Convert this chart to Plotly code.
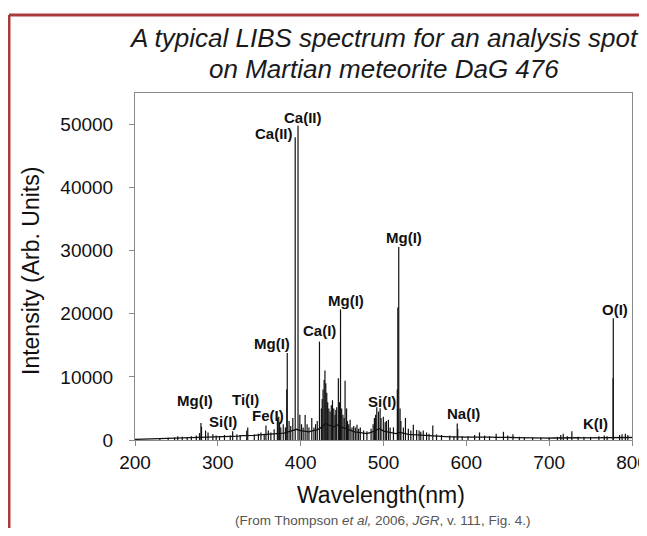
import numpy as np
import plotly.graph_objects as go

# ---------------- data ----------------
# Emission lines: wavelength (nm) and peak intensity (arb. units)
line_wl = [230, 240, 247.8, 251.6, 257, 263, 268, 274, 277.9, 279.6, 280.3, 285.2, 288.2,
           294, 298, 302, 308, 315, 317.9, 323, 327, 334.9, 336.1, 344, 349, 352, 356,
           358.1, 361, 364, 368, 371.9, 373.5, 374.6, 376, 379, 381.6, 383.2, 383.8,
           386, 388, 390.5, 393.4, 396.8, 399, 401, 403, 405.4, 407.8, 410, 413.4, 416,
           418, 420, 422.7, 425, 426, 427, 428.3, 429.3, 430.3, 431.5, 432.6, 434, 435.5,
           437, 438.4, 440, 441.5, 442.5, 443.5, 445.5, 447, 448.1, 449.5, 451, 452.5,
           453.6, 455.4, 456.5, 458, 459.7, 462, 464, 466, 468, 470, 472, 476, 480, 485,
           487.5, 489, 490.5, 491.9, 494, 495.9, 497, 499.8, 502, 503.5, 505.9, 508, 512,
           516.7, 517.3, 518.4, 520, 521, 524, 526.5, 530, 533, 536, 540, 543, 545, 548,
           552, 555, 559.5, 564, 570, 580, 585, 589.0, 589.6, 595, 602, 610, 615.9, 622,
           628, 636, 644.8, 650, 656.3, 664, 670, 680, 690, 700, 710, 714, 717, 722, 727.4,
           735, 742, 750, 760, 766.5, 769.9, 777.2, 777.4, 785, 788, 792, 795]
line_int = [300, 350, 400, 600, 500, 450, 600, 700, 1100, 2700, 2100, 1500, 1200,
            900, 700, 600, 800, 700, 1400, 900, 800, 1500, 2000, 900, 1000, 1200, 800,
            2300, 1500, 1200, 1700, 3500, 3700, 2800, 2000, 2500, 2000, 8000, 13800,
            3000, 2200, 3500, 48000, 49800, 4000, 2500, 2000, 3950, 2500, 2000, 3500, 2000,
            2500, 3000, 15600, 5000, 6500, 8000, 9500, 11000, 9000, 7500, 6000, 5000, 4500,
            5500, 6300, 5000, 4000, 4750, 5200, 9800, 6000, 20700, 5000, 4000, 3500,
            9400, 5000, 3000, 2500, 3200, 2000, 2200, 2000, 2400, 1800, 2000, 1500, 1400, 1800,
            2500, 3500, 4000, 5200, 4500, 5050, 3500, 3700, 2800, 3000, 3200, 2000, 2000,
            8000, 21000, 30600, 5000, 3000, 2000, 3500, 1800, 1500, 2400, 1600, 1500, 1300, 1500,
            1200, 1000, 2300, 900, 800, 700, 600, 2600, 1800, 600, 600, 800, 1200, 700,
            600, 1000, 1300, 700, 900, 500, 450, 400, 400, 450, 500, 800, 1000, 600, 1400,
            500, 500, 500, 600, 700, 600, 9800, 19300, 800, 900, 1000, 800]

# Continuum background under the lines (every 5 nm, 200-800 nm)
cont_wl = list(range(200, 801, 5))
cont_int = [100, 120, 150, 130, 180, 200, 170, 220, 250, 230, 300,
            320, 350, 330, 400, 420, 380, 450, 500, 480, 550,
            520, 600, 580, 650, 620, 700, 680, 750, 720, 800,
            850, 820, 900, 950, 1000, 1100, 1300, 1500, 1700, 1500,
            1400, 1300, 1500, 1600, 2000, 2600, 2300, 2100, 2400, 2000,
            1800, 1500, 1300, 1200, 1100, 1000, 1200, 1500, 1800, 1400,
            1300, 1100, 1000, 1200, 1000, 900, 850, 800, 750, 700,
            650, 600, 550, 500, 520, 480, 500, 450, 470, 450,
            440, 460, 430, 450, 420, 440, 410, 430, 400, 420,
            400, 380, 360, 350, 340, 330, 320, 320, 310, 300,
            320, 340, 330, 350, 340, 350, 360, 340, 350, 360,
            360, 370, 380, 400, 420, 400, 420, 450, 430, 400]

# Line identifications: label, wavelength position, intensity position
lab_text = ["Ca(II)", "Ca(II)", "Mg(I)", "Ca(I)", "Mg(I)", "Mg(I)", "Si(I)", "Ti(I)",
            "Fe(I)", "Si(I)", "Mg(I)", "Na(I)", "K(I)", "O(I)"]
lab_wl = [403.3, 367.9, 365.1, 422.6, 454.8, 524.9, 497.9, 332.9,
          361.0, 305.9, 272.5, 596.5, 755.6, 779.7]
lab_int = [51150, 48600, 15300, 17400, 22150, 32070, 6170, 6440,
           3950, 2900, 6330, 4220, 2640, 20680]

x_ticks = [200, 300, 400, 500, 600, 700, 800]
y_ticks = [0, 10000, 20000, 30000, 40000, 50000]
y_tick_labels = ["0", "10000", "20000", "30000", "40000", "50000"]

# ---------------- figure ----------------
stick_x, stick_y = [], []
for w, h in zip(line_wl, line_int):
    stick_x += [w, w, None]
    stick_y += [0, h, None]

fig = go.Figure()
fig.add_trace(go.Scatter(x=cont_wl, y=cont_int, mode="lines",
                         line=dict(color="#111111", width=1.3), hoverinfo="skip"))
fig.add_trace(go.Scatter(x=stick_x, y=stick_y, mode="lines",
                         line=dict(color="#111111", width=1.2), hoverinfo="skip"))

FONT = "Liberation Sans, Arial, sans-serif"

for t, w, v in zip(lab_text, lab_wl, lab_int):
    fig.add_annotation(x=w, y=v, xref="x", yref="y", text="<b>%s</b>" % t,
                       showarrow=False, xanchor="center", yanchor="middle",
                       font=dict(family=FONT, size=15, color="#111111"))

# the page shows the figure with an 8 px body margin; positions below are window pixels.
# height is kept so the page does not need a vertical scrollbar.
OFF = 8
W, H = 647 - OFF, 536 - 2 * OFF
L, T = 135 - OFF, 93 - OFF
R = W - (632 - OFF)
B = H - (440 - OFF)
pw, ph = W - L - R, H - T - B


def px(x):
    return (x - OFF - L) / pw


def py(y):
    return (H - B - (y - OFF)) / ph


def note(x, y, text, size, color="#111111", style="normal", angle=0):
    fig.add_annotation(x=px(x), y=py(y), xref="paper", yref="paper", text=text,
                       showarrow=False, xanchor="center", yanchor="middle", textangle=angle,
                       font=dict(family=FONT, size=size, color=color, style=style))


note(384.4, 38, "A typical LIBS spectrum for an analysis spot", 26, "#1a1a1a", "italic")
note(384.4, 69, "on Martian meteorite DaG 476", 26, "#1a1a1a", "italic")
note(31, 271, "Intensity (Arb. Units)", 23, angle=-90)
note(381, 495, "Wavelength(nm)", 23)
note(382.5, 520, "(From Thompson <i>et al,</i> 2006, <i>JGR</i>, v. 111, Fig. 4.)", 13.5, "#555555")

# red-brown page border (top and left), kept inside the page
border = "#a93b3b"
fig.add_shape(type="line", xref="paper", yref="paper", x0=px(9), x1=px(647),
              y0=py(15), y1=py(15), line=dict(color=border, width=3))
fig.add_shape(type="line", xref="paper", yref="paper", x0=px(9), x1=px(9),
              y0=py(15), y1=py(528), line=dict(color=border, width=3))

axis_common = dict(showgrid=False, zeroline=False, showline=True, linecolor="#8a8a8a",
                   linewidth=1, mirror=True, ticks="outside", ticklen=5, tickcolor="#8a8a8a",
                   automargin=False)
fig.update_xaxes(range=[200, 800], tickvals=x_ticks, ticklabeloverflow="allow",
                 tickfont=dict(family=FONT, size=19, color="#111111"), **axis_common)
fig.update_yaxes(range=[0, 55000], tickvals=y_ticks, ticktext=y_tick_labels,
                 ticklabelstandoff=12,
                 tickfont=dict(family=FONT, size=19, color="#111111"), **axis_common)

fig.update_layout(width=W, height=H, margin=dict(l=L, r=R, t=T, b=B, autoexpand=False),
                  paper_bgcolor="white", plot_bgcolor="white", showlegend=False)

fig.write_html("out.html")
